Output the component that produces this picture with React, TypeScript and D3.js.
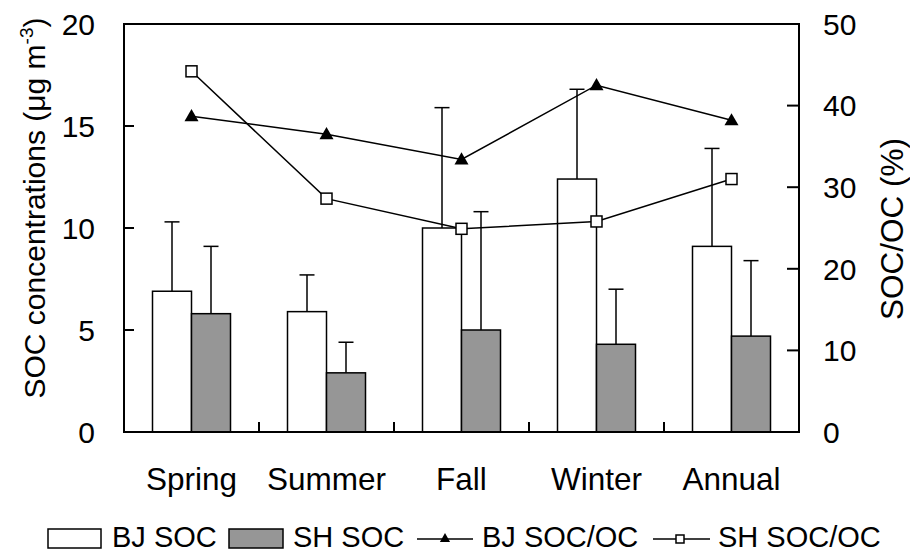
import * as d3 from 'd3';

const categories = ['Spring', 'Summer', 'Fall', 'Winter', 'Annual'];
const bjSoc = [6.9, 5.9, 10.0, 12.4, 9.1];
const bjSocSd = [3.4, 1.8, 5.9, 4.4, 4.8];
const shSoc = [5.8, 2.9, 5.0, 4.3, 4.7];
const shSocSd = [3.3, 1.5, 5.8, 2.7, 3.7];
const bjRatio = [38.7, 36.5, 33.4, 42.5, 38.2];
const shRatio = [44.2, 28.6, 24.9, 25.8, 31.0];
const leftTicks = [0, 5, 10, 15, 20];
const rightTicks = [0, 10, 20, 30, 40, 50];

const width = 910;
const height = 553;
const marginLeft = 124;
const marginRight = 111;
const marginTop = 24;
const marginBottom = 121;
const font = 'Liberation Sans, Arial, sans-serif';

const App = () => {
  const x0 = d3.scaleBand(categories, [marginLeft, width - marginRight]).padding(0);
  const groupW = 78;
  const x1 = d3.scaleBand(['BJ', 'SH'], [0, groupW]).padding(0);
  const y = d3.scaleLinear([0, 20], [height - marginBottom, marginTop]);
  const y2 = d3.scaleLinear([0, 50], [height - marginBottom, marginTop]);
  const cx = (c: string) => (x0(c) ?? 0) + x0.bandwidth() / 2;
  const gx = (c: string) => (x0(c) ?? 0) + (x0.bandwidth() - groupW) / 2;

  const line = d3
    .line<number>()
    .x((_, i) => cx(categories[i]))
    .y((d) => y2(d));

  const bars = [
    { key: 'BJ', vals: bjSoc, sd: bjSocSd, fill: '#ffffff' },
    { key: 'SH', vals: shSoc, sd: shSocSd, fill: '#969696' },
  ];

  const tri = d3.symbol(d3.symbolTriangle, 85)();
  const triSmall = d3.symbol(d3.symbolTriangle, 45)();
  const bottom = height - marginBottom;
  const right = width - marginRight;

  return (
    <svg
      width={width}
      height={height}
      style={{ position: 'absolute', left: 0, top: 0, background: '#fff' }}
      fontFamily={font}
    >
      {/* bars with error bars */}
      {bars.map((s) =>
        categories.map((c, i) => {
          const bx = gx(c) + (x1(s.key) ?? 0);
          const bw = x1.bandwidth();
          const top = y(s.vals[i]);
          const errTop = y(s.vals[i] + s.sd[i]);
          const mx = bx + bw / 2;
          return (
            <g key={s.key + c}>
              <line x1={mx} x2={mx} y1={top} y2={errTop} stroke="#000" strokeWidth={1.5} />
              <line x1={mx - 7.5} x2={mx + 7.5} y1={errTop} y2={errTop} stroke="#000" strokeWidth={1.5} />
              <rect x={bx} y={top} width={bw} height={bottom - top} fill={s.fill} stroke="#000" strokeWidth={1.5} />
            </g>
          );
        }),
      )}

      {/* ratio lines */}
      <path d={line(bjRatio) ?? ''} fill="none" stroke="#000" strokeWidth={1.5} />
      <path d={line(shRatio) ?? ''} fill="none" stroke="#000" strokeWidth={1.5} />
      {bjRatio.map((v, i) => (
        <path key={'t' + i} d={tri ?? ''} transform={`translate(${cx(categories[i])},${y2(v) + 1})`} fill="#000" />
      ))}
      {shRatio.map((v, i) => (
        <rect
          key={'s' + i}
          x={cx(categories[i]) - 5.5}
          y={y2(v) - 5.5}
          width={11}
          height={11}
          fill="#fff"
          stroke="#000"
          strokeWidth={1.5}
        />
      ))}

      {/* frame */}
      <rect x={marginLeft} y={marginTop} width={right - marginLeft} height={bottom - marginTop} fill="none" stroke="#000" strokeWidth={2} />

      {/* left axis */}
      {leftTicks.map((t) => (
        <g key={'l' + t}>
          <line x1={marginLeft} x2={marginLeft + 10} y1={y(t)} y2={y(t)} stroke="#000" strokeWidth={2} />
          <text x={95} y={y(t)} dy="0.36em" textAnchor="end" fontSize={30}>
            {t}
          </text>
        </g>
      ))}

      {/* right axis */}
      {rightTicks.map((t) => (
        <g key={'r' + t}>
          <line x1={right - 12} x2={right} y1={y2(t)} y2={y2(t)} stroke="#000" strokeWidth={2} />
          <text x={823} y={y2(t)} dy="0.36em" textAnchor="start" fontSize={30}>
            {t}
          </text>
        </g>
      ))}

      {/* x ticks + labels */}
      {categories.slice(1).map((c) => (
        <line key={'x' + c} x1={x0(c)} x2={x0(c)} y1={bottom} y2={bottom - 10} stroke="#000" strokeWidth={2} />
      ))}
      {categories.map((c) => (
        <text key={'c' + c} x={cx(c)} y={490} textAnchor="middle" fontSize={31.5}>
          {c}
        </text>
      ))}

      {/* axis titles */}
      <text transform="translate(45,208) rotate(-90)" textAnchor="middle" fontSize={30}>
        SOC concentrations (μg m
        <tspan dy={-12} fontSize={19}>
          -3
        </tspan>
        <tspan dy={12}>)</tspan>
      </text>
      <text transform="translate(903,229) rotate(-90)" textAnchor="middle" fontSize={31.5}>
        SOC/OC (%)
      </text>

      {/* legend */}
      <g fontSize={29}>
        <rect x={48} y={529} width={53} height={19} fill="#fff" stroke="#000" strokeWidth={1.5} />
        <text x={112} y={547}>BJ SOC</text>
        <rect x={229} y={529} width={54} height={19} fill="#969696" stroke="#000" strokeWidth={1.5} />
        <text x={293} y={547}>SH SOC</text>
        <line x1={417} x2={473} y1={539} y2={539} stroke="#000" strokeWidth={1.5} />
        <path d={triSmall ?? ''} transform="translate(445,539)" fill="#000" />
        <text x={482} y={547}>BJ SOC/OC</text>
        <line x1={653} x2={710} y1={539} y2={539} stroke="#000" strokeWidth={1.5} />
        <rect x={676} y={535} width={8} height={8} fill="#fff" stroke="#000" strokeWidth={1.5} />
        <text x={718} y={547}>SH SOC/OC</text>
      </g>
    </svg>
  );
};

export default App;
